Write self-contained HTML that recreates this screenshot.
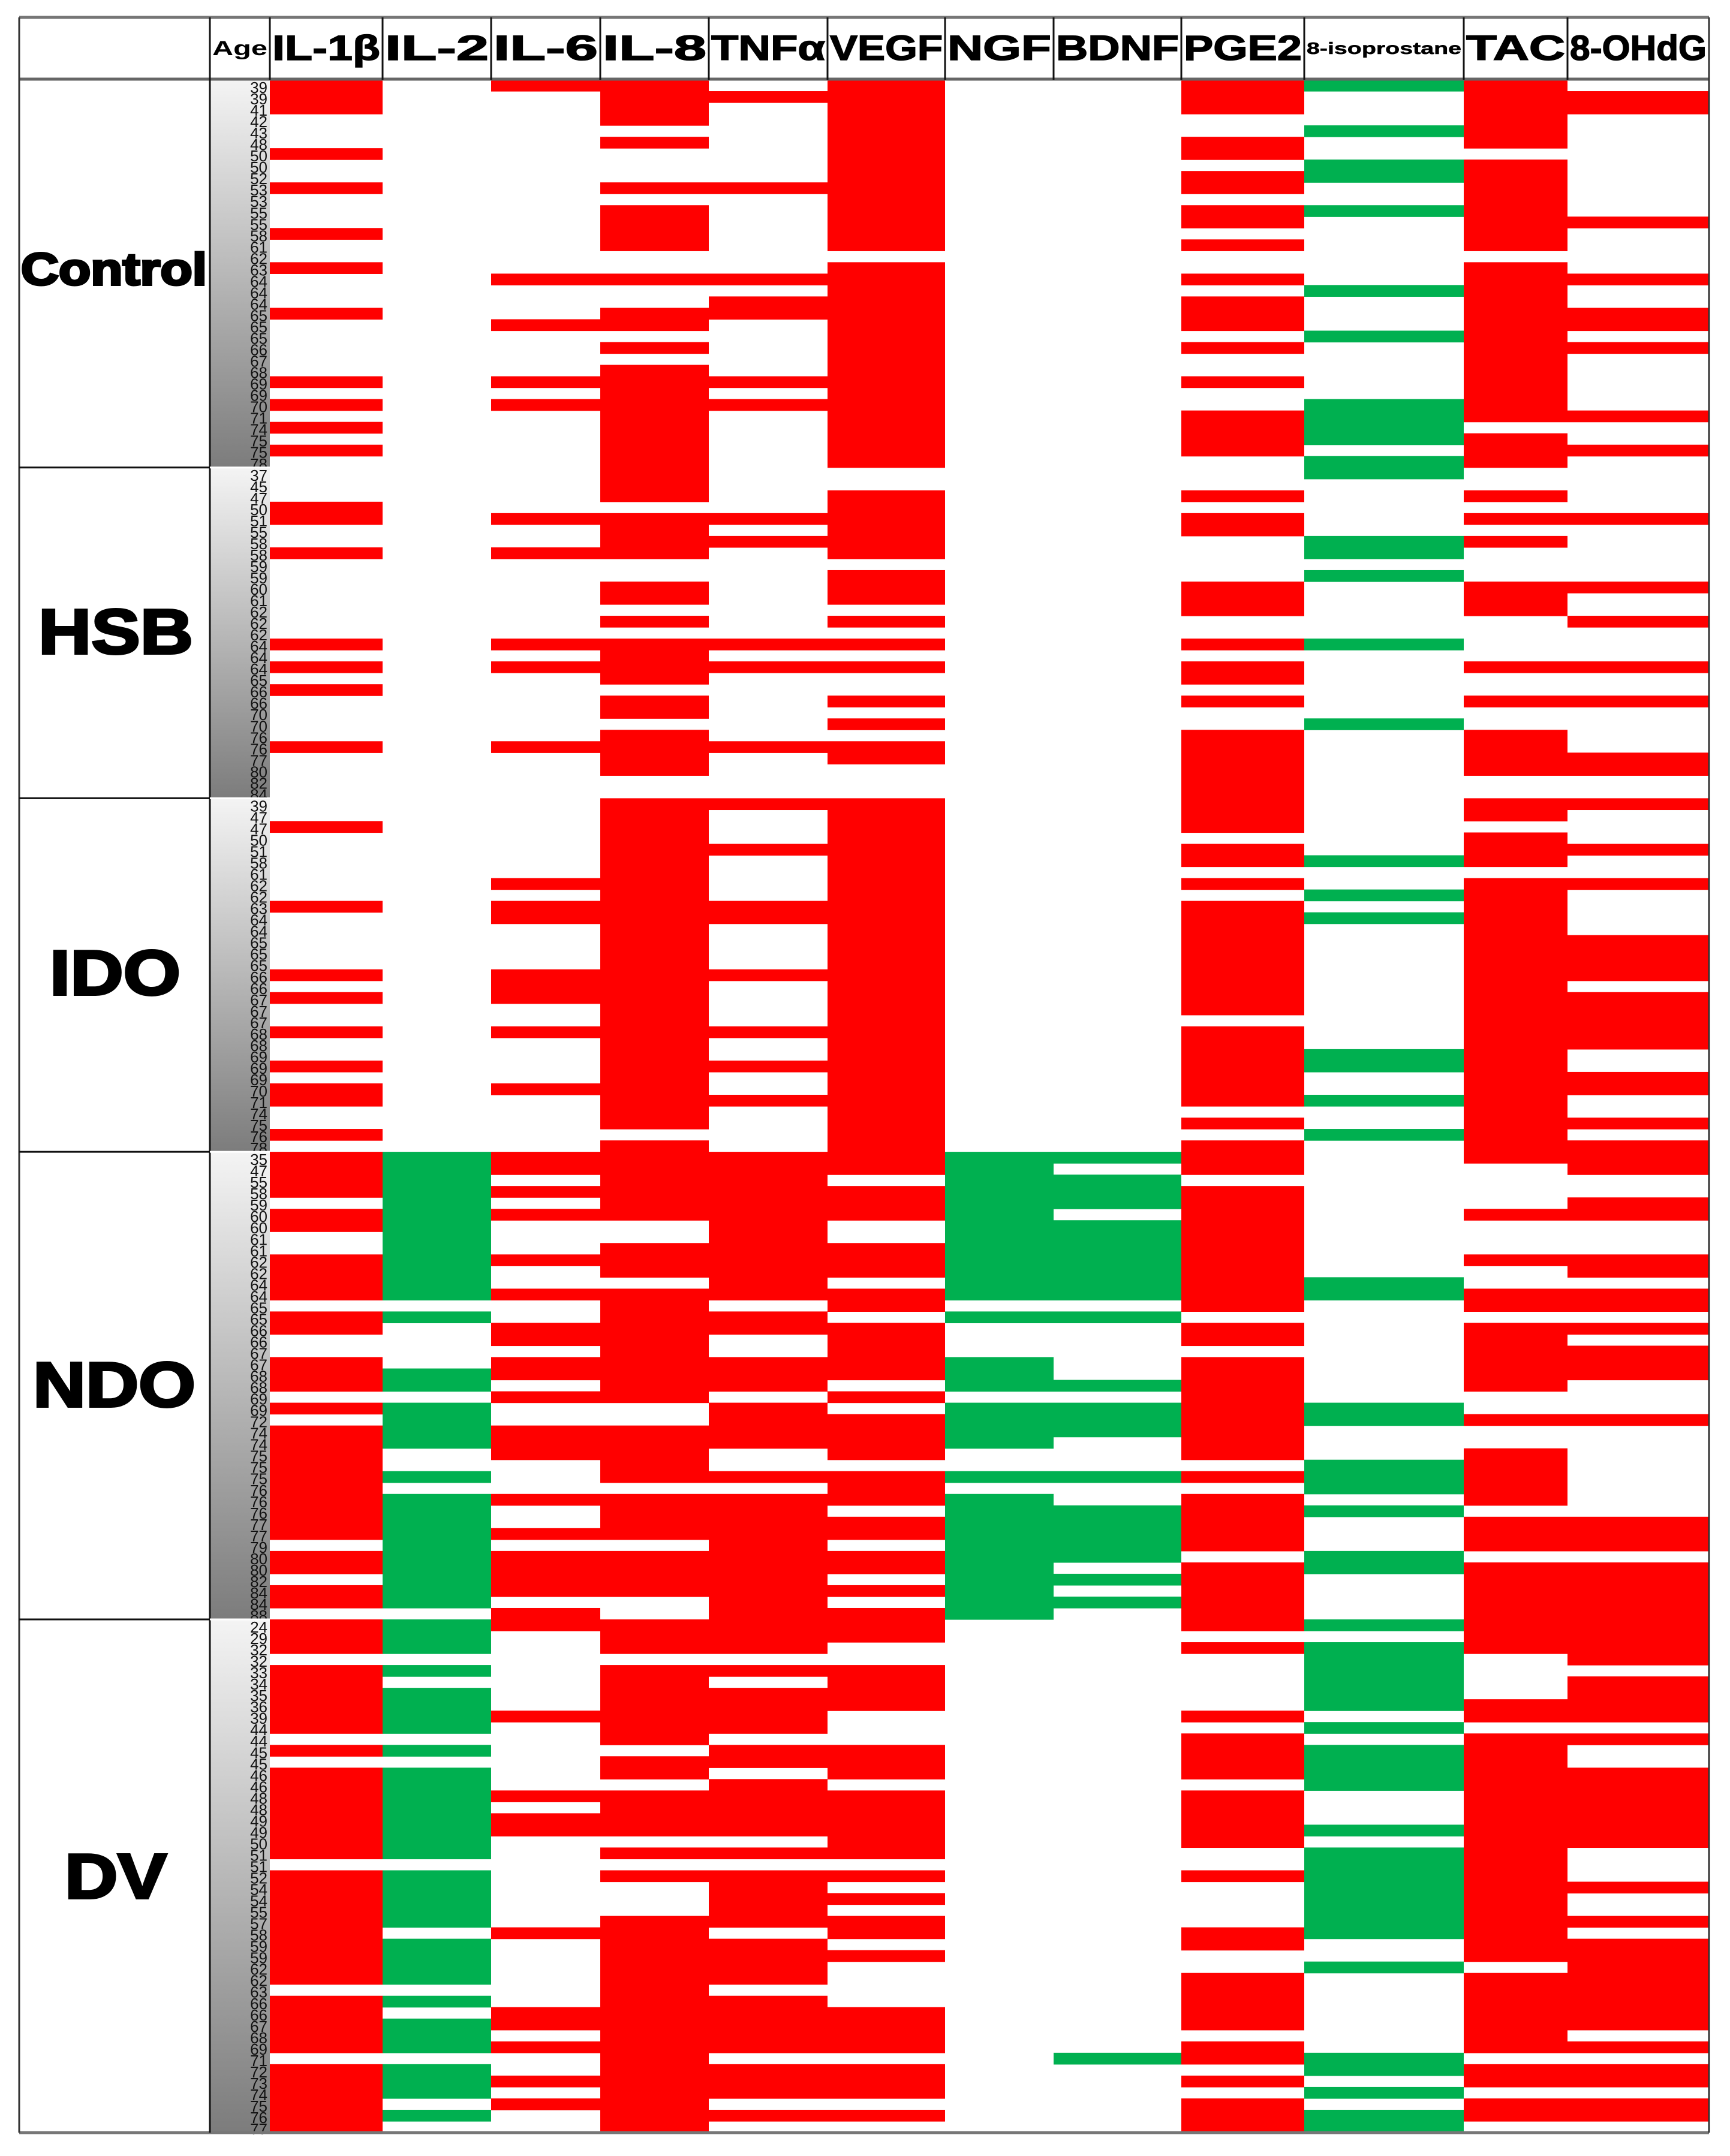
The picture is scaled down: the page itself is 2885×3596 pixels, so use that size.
<!DOCTYPE html>
<html><head><meta charset="utf-8"><style>
html,body{margin:0;padding:0;background:#fff;}
svg{display:block;}
</style></head><body>
<svg id="chart" xmlns="http://www.w3.org/2000/svg" width="2885" height="3596" viewBox="0 0 2885 3596">
<defs>
<linearGradient id="ageGrad" x1="0" y1="0" x2="0" y2="1">
<stop offset="0" stop-color="#f4f4f4"/><stop offset="1" stop-color="#7c7c7c"/>
</linearGradient>
</defs>
<rect x="0" y="0" width="2885" height="3596" fill="#fff"/>
<g id="cells"></g>
<g id="ages"></g>
<g id="grid"></g>
<g id="labels"></g>
</svg>
<script>
const columns = ["IL-1β","IL-2","IL-6","IL-8","TNFα","VEGF","NGF","BDNF","PGE2","8-isoprostane","TAC","8-OHdG"];
const groups = ["Control","HSB","IDO","NDO","DV"];
const controlAges = [39,39,41,42,43,48,50,50,52,53,53,55,55,58,61,62,63,64,64,64,65,65,65,66,67,68,69,69,70,71,74,75,75,78];
const hsbAges = [37,45,47,50,51,55,58,58,59,59,60,61,62,62,62,64,64,64,65,66,66,70,70,76,76,77,80,82,84];
const idoAges = [39,47,47,50,51,58,61,62,62,63,64,64,65,65,65,66,66,67,67,67,68,68,69,69,69,70,71,74,75,76,78];
const ndoAges = [35,47,55,58,59,60,60,61,61,62,62,64,64,65,65,66,66,67,67,68,68,69,69,72,74,74,75,75,75,76,76,76,77,77,79,80,80,82,84,84,88];
const dvAges = [24,29,32,32,33,34,35,36,39,44,44,45,45,46,46,48,48,49,49,50,51,51,52,54,54,55,57,58,59,59,62,62,63,66,66,67,68,69,71,72,73,74,75,76,77];
const controlCells = ["R0-2,6,9,13,16,20,26,28,30,32","","R0,17,21,26,28","R0-3,5,9,11-14,17,20-21,23,25-33","R1,9,17,19-20,26,28","R0-14,16-33","","","R0-2,5-6,8-9,11-12,14,17,19-21,23,26,29-32","G0,4,7-8,11,18,22,28-31,33","R0-5,7-14,16-29,31-33","R1-2,12,17,20-21,23,29,32"];
const hsbCells = ["R3-4,7,15,17,19,24","","R4,7,15,17,24","R0-2,4-7,10-11,13,15-18,20-21,23-26","R4,6,15,17,24","R2-7,9-11,13,15,17,20,22,24-25","","","R2,4-5,10-12,15,17-18,20,23-28","G0,6-7,9,15,22","R2,4,6,10-12,17,20,23-26","R4,10,13,17,20,25-26"];
const idoCells = ["R2,9,15,17,20,23,25-26,29","","R7,9-10,15-17,20,25","R0-28,30","R0,4,9-10,15,20,23,26","R0-30","","","R0-2,4-5,7,9-18,20-26,28,30","G5,8,10,22-23,26,29","R0-1,3-5,7-30","R0,4,7,12-15,17-21,24-25,28,30"];
const ndoCells = ["R0-3,5-6,9-12,14-15,18-20,22,24-33,35-36,38-39","G0-12,14,19-20,22-25,28,30-39","R0-1,3,5,9,12,15-16,18-19,21,24-26,30,33,35-38,40","R0-5,8-10,12-21,24-28,30-33,35-38","R0-12,14-15,18-20,22-25,28,30-40","R0-1,3-5,8-10,12-13,15-19,21,23-26,28-30,32-33,35-36,38,40","G0-12,14,18-20,22-25,28,30-40","G0,2-4,6-12,14,20,22-24,28,31-35,37,39","R0-1,3-13,15-16,18-26,28,30-34,36-40","G11-12,22-23,27-29,31,35-36","R0,5,9,12-13,15-20,23,26-30,32-34,36-40","R0-1,4-5,9-10,12-13,15,17-19,23,32-34,36-40"];
const dvCells = ["R0-2,4-9,11,13-20,22-31,33-37,39-44","G0-2,4,6-9,11,13-20,22-26,28-31,33,35-37,39-41,43","R0,8,15,17-18,27,34-35,37,40,42","R0-2,4-10,12-13,15-18,20,22,26-44","R0-2,4,6-9,11-12,14-18,20,22-26,28-31,33-37,39-41,43","R0-1,4-7,11-13,15-20,22,24,26-27,29,34-37,39-41,43","","G38","R0,2,8,10-13,15-19,22,27-28,31-35,37-38,40,42-44","G0,2-7,9,11-14,18,20-27,30,38-39,41,43-44","R0-2,7-8,10-29,31-37,39-40,42-43","R0-3,5-8,10,13-19,23,26,28-35,37,39-40,42-43"];

const groupAges = [controlAges,hsbAges,idoAges,ndoAges,dvAges];
const groupCells = [controlCells,hsbCells,idoCells,ndoCells,dvCells];

const NS = "http://www.w3.org/2000/svg";
const colEdges = [450,638,819,1001,1182,1380,1576,1757,1970,2175,2441,2614,2850];
const TOP = 133, BOTTOM = 3557, LEFT = 32, LABEL_R = 350, AGE_R = 450, HEAD_TOP = 29;
const totalRows = groupAges.reduce((s,a)=>s+a.length,0);
const rowH = (BOTTOM-TOP)/totalRows;
const colors = {R:"#ff0000", G:"#00b050"};

function parseCodes(spec, n){
  const out = new Array(n).fill("");
  if(!spec) return out;
  const c = spec[0];
  spec.slice(1).split(",").forEach(tok=>{
    const p = tok.split("-").map(Number);
    const a = p[0], b = p.length>1 ? p[1] : p[0];
    for(let i=a;i<=b && i<n;i++) out[i]=c;
  });
  return out;
}
function mk(tag, attrs, parent){
  const el = document.createElementNS(NS, tag);
  for(const k in attrs) el.setAttribute(k, attrs[k]);
  parent.appendChild(el);
  return el;
}
const gCells = document.getElementById("cells");
const gAges = document.getElementById("ages");
const gGrid = document.getElementById("grid");
const gLabels = document.getElementById("labels");

let rowStart = 0;
const groupBounds = [];
groupAges.forEach((ages, gi)=>{
  const n = ages.length;
  const y0 = TOP + rowStart*rowH, y1 = TOP + (rowStart+n)*rowH;
  groupBounds.push([y0,y1]);
  const bg = mk("rect",{x:LABEL_R, y:y0, width:AGE_R-LABEL_R, height:y1-y0, fill:"url(#ageGrad)"}, gAges);
  
  
  ages.forEach((a,i)=>{
    const t = mk("text",{x:AGE_R-4, y:y0+(i+1)*rowH+3, "text-anchor":"end", "font-family":"Liberation Sans, sans-serif", "font-size":"26", fill:"#111"}, gAges);
    t.textContent = a;
    
    
  });
  groupCells[gi].forEach((spec, ci)=>{
    const codes = parseCodes(spec, n);
    codes.forEach((c, i)=>{
      if(!c) return;
      const r = mk("rect",{x:colEdges[ci], y:(y0+i*rowH).toFixed(2), width:colEdges[ci+1]-colEdges[ci], height:(rowH+0.6).toFixed(2), fill:colors[c]}, gCells);
      
      
    });
  });
  rowStart += n;
});

const glabelPos = [[35,345,475,54],[64,322,1090,76],[83,301,1659,76],[55,326,2346,76],[108,278,3166,76]];
groups.forEach((g,gi)=>{
  const p = glabelPos[gi];
  const t = mk("text",{x:p[0], y:p[2], "font-family":"Liberation Sans, sans-serif", "font-weight":"bold", "font-size":(p[3]/0.72).toFixed(1), textLength:p[1]-p[0], lengthAdjust:"spacingAndGlyphs", fill:"#000", stroke:"#000","stroke-width":"4"}, gLabels);
  t.textContent = g;
  
  
});

const ageT = mk("text",{x:354, y:92, "font-family":"Liberation Sans, sans-serif","font-weight":"bold","font-size":"34",textLength:92,lengthAdjust:"spacingAndGlyphs",fill:"#000"}, gLabels);
ageT.textContent = "Age";


columns.forEach((c,ci)=>{
  const x0 = colEdges[ci], x1 = colEdges[ci+1];
  const small = c === "8-isoprostane";
  const t = mk("text",{x:x0+4, y: small?90:100, "font-family":"Liberation Sans, sans-serif","font-weight":"bold","font-size": small?"28":"58", textLength:(x1-x0-8), lengthAdjust:"spacingAndGlyphs", fill:"#000", stroke:"#000","stroke-width": small?"0.5":"1.5"}, gLabels);
  t.textContent = c;
  
  
});

function line(x1,y1,x2,y2,stroke,w,name){
  const l = mk("line",{x1,y1,x2,y2,stroke,"stroke-width":w}, gGrid);
  
  
}
line(LEFT,HEAD_TOP,2850,HEAD_TOP,"#777",5,"top-border");
line(LEFT,TOP-1,2850,TOP-1,"#666",5,"header-bottom-border");
line(LEFT,BOTTOM,2850,BOTTOM,"#777",5,"bottom-border");
line(LEFT,HEAD_TOP,LEFT,BOTTOM,"#333",3,"left-border");
line(2850,HEAD_TOP,2850,BOTTOM,"#333",3,"right-border");
line(LABEL_R,HEAD_TOP,LABEL_R,BOTTOM,"#111",3,"label-column-border");
colEdges.slice(0,-1).forEach(x=>{ line(x,HEAD_TOP,x,TOP,"#111",3,"header-divider"); });
groupBounds.slice(0,-1).forEach(b=>{ line(LEFT,b[1],LABEL_R,b[1],"#111",3,"group-separator"); line(LABEL_R,b[1],AGE_R,b[1],"#fff",3,"age-separator"); });
</script>
</body></html>
